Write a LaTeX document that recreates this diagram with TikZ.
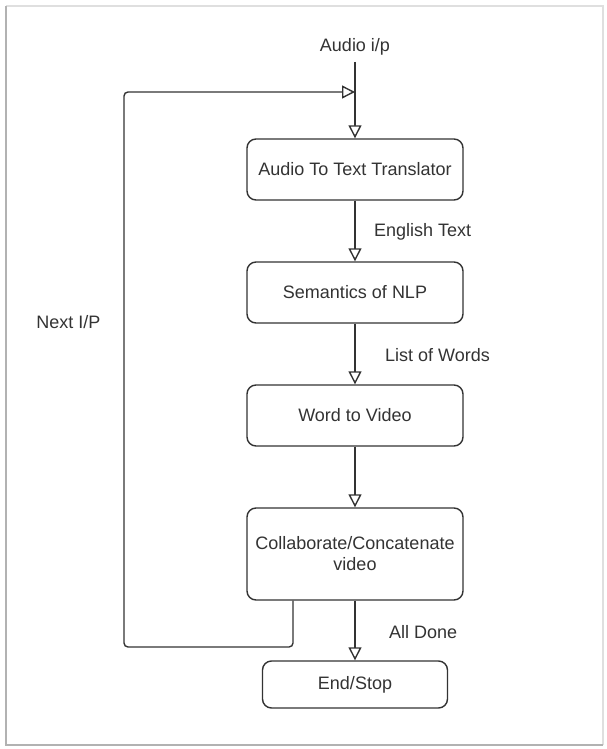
\documentclass[tikz,border=0pt]{standalone}
\usepackage{fontspec}
\setmainfont{Liberation Sans}
\usetikzlibrary{arrows.meta}
\definecolor{ink}{HTML}{333333}
\definecolor{txt}{HTML}{333333}
\begin{document}
\begin{tikzpicture}[x=1pt,y=-1pt,
  box/.style={draw=ink, line width=1.4pt, rounded corners=9pt, fill=white, font=\fontsize{18}{21}\selectfont, text=txt, align=center, inner sep=0pt},
  lbl/.style={font=\fontsize{18}{21}\selectfont, text=txt, inner sep=0pt},
  conn/.style={draw=ink, line width=1.4pt, -{Triangle[open, length=13pt, width=13pt, fill=white]}},
  plain/.style={draw=ink, line width=1.4pt}]
\useasboundingbox (0,0) rectangle (606,749);
\fill[white] (0,0) rectangle (606,749);
\draw[gray!25, line width=2pt] (6,6) -- (603,6) -- (603,745);
\draw[gray!60, line width=2.5pt] (603,745) -- (6,745) -- (6,6);
\node[box, minimum width=216pt, minimum height=61pt] (a) at (355,169.5) {Audio To Text Translator};
\node[box, minimum width=216pt, minimum height=61pt] (b) at (355,292.5) {Semantics of NLP};
\node[box, minimum width=216pt, minimum height=61pt] (c) at (355,415.5) {Word to Video};
\node[box, minimum width=216pt, minimum height=92pt] (d) at (355,554) {Collaborate/Concatenate\\video};
\node[box, minimum width=185pt, minimum height=47pt] (e) at (355,684.5) {End/Stop};
\node[lbl] (in) at (355,47) {Audio i/p};
\coordinate (top) at (355,62);
\coordinate (j) at (355,92);
\node[lbl, anchor=west] (l1) at (374,232) {English Text};
\node[lbl, anchor=west] (l2) at (385,355) {List of Words};
\node[lbl, anchor=west] (l3) at (389,632) {All Done};
\node[lbl] (l4) at (68.5,322) {Next I/P};
\coordinate (d1) at ([xshift=-62pt]d.south);
\coordinate (lp1) at (d1 |- 0,647);
\coordinate (lp2) at (124,647);
\coordinate (lp3) at (124,92);
\draw[conn] (top) -- (a.north);
\draw[conn] (a.south) -- (b.north);
\draw[conn] (b.south) -- (c.north);
\draw[conn] (c.south) -- (d.north);
\draw[conn] (d.south) -- (e.north);
\draw[conn, rounded corners=4pt] (d1) -- (lp1) -- (lp2) -- (lp3) -- (j);
\end{tikzpicture}
\end{document}
